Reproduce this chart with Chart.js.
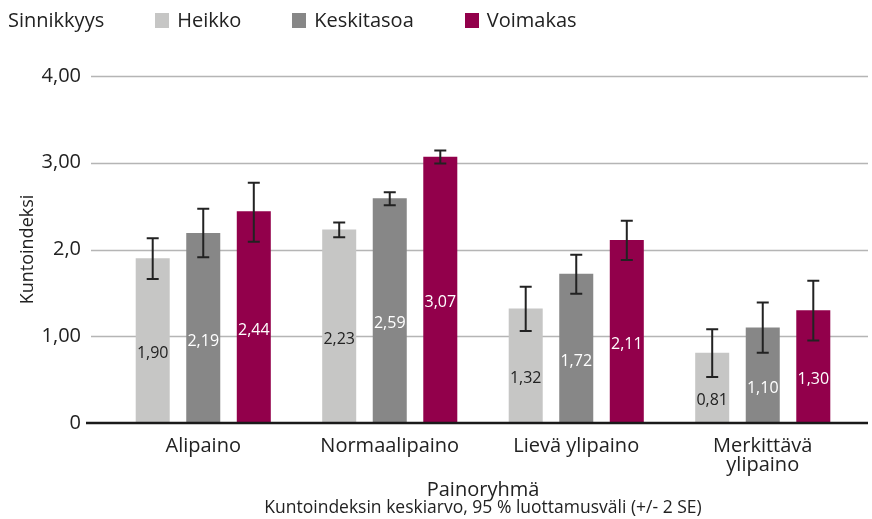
<!DOCTYPE html>
<html>
<head>
<meta charset="utf-8">
<script src="https://cdn.jsdelivr.net/npm/chart.js@4"></script>
<style>
  html, body { margin: 0; padding: 0; background: #fff; }
  body { width: 872px; height: 519px; position: relative; overflow: hidden;
         font-family: 'Open Sans', sans-serif; color: #222; }
  #legend { position: absolute; left: 8px; top: 7px; display: flex; align-items: center;
            font-size: 20px; line-height: 26px; z-index: 2; }
  .legend-item { display: flex; align-items: center; margin-left: 51px; }
  .legend-dot { display: inline-block; width: 14px; height: 15px; margin-right: 8px; }
  #wrap { position: absolute; left: 0; top: 0; width: 872px; height: 519px; }
</style>
</head>
<body>
<div id="legend"></div>
<div id="wrap"><canvas id="barChart"></canvas></div>
<script>
// ── Data ───────────────────────────────────────
const categories = ['Alipaino', 'Normaalipaino', 'Lievä ylipaino', ['Merkittävä', 'ylipaino']];
const seriesNames = ['Heikko', 'Keskitasoa', 'Voimakas'];

const heikko     = [1.90, 2.23, 1.32, 0.81];
const keskitasoa = [2.19, 2.59, 1.72, 1.10];
const voimakas   = [2.44, 3.07, 2.11, 1.30];

// 95 % luottamusväli, ala- ja yläraja
const heikkoLow      = [1.66, 2.14, 1.06, 0.53];
const heikkoHigh     = [2.13, 2.31, 1.57, 1.08];
const keskitasoaLow  = [1.91, 2.51, 1.49, 0.81];
const keskitasoaHigh = [2.47, 2.66, 1.94, 1.39];
const voimakasLow    = [2.09, 2.99, 1.88, 0.95];
const voimakasHigh   = [2.77, 3.14, 2.33, 1.64];

const yTickLabels = ['0', '1,00', '2,0', '3,00', '4,00'];

const COLORS       = ['#c6c6c5', '#878787', '#92004b'];
const LABEL_COLORS = ['#222222', '#ffffff', '#ffffff'];
const FONT = "'Open Sans', sans-serif";

document.getElementById('legend').innerHTML = '<span>Sinnikkyys</span>' + seriesNames
  .map((l, i) => `<span class="legend-item"><span class="legend-dot" style="background:${COLORS[i]}"></span>${l}</span>`)
  .join('');

// ── Plugins: grid, error bars, value labels ────
const gridLines = {
  id: 'gridLines',
  beforeDatasetsDraw(chart) {
    const { ctx, chartArea, scales: { y } } = chart;
    ctx.save();
    ctx.strokeStyle = '#b5b5b5';
    ctx.lineWidth = 1.5;
    [1, 2, 3, 4].forEach(v => {
      const py = Math.round(y.getPixelForValue(v)) + 0.5;
      ctx.beginPath();
      ctx.moveTo(chartArea.left - 19, py);
      ctx.lineTo(chart.width - 4, py);
      ctx.stroke();
    });
    ctx.restore();
  },
  afterDatasetsDraw(chart) {
    const { ctx, chartArea, scales: { y } } = chart;
    const py = y.getPixelForValue(0);
    ctx.save();
    ctx.strokeStyle = '#1a1a1a';
    ctx.lineWidth = 2.5;
    ctx.beginPath();
    ctx.moveTo(chartArea.left - 24, py);
    ctx.lineTo(chart.width - 4, py);
    ctx.stroke();
    ctx.restore();
  },
};

const errorBars = {
  id: 'errorBars',
  afterDatasetsDraw(chart) {
    const { ctx, scales: { y } } = chart;
    ctx.save();
    chart.data.datasets.forEach((ds, di) => {
      const meta = chart.getDatasetMeta(di);
      meta.data.forEach((bar, i) => {
        // value label inside bar
        ctx.fillStyle = LABEL_COLORS[di];
        ctx.font = `16px ${FONT}`;
        ctx.textAlign = 'center';
        ctx.textBaseline = 'middle';
        ctx.fillText(ds.data[i].toFixed(2).replace('.', ','), bar.x, (bar.y + bar.base) / 2 + 13);

        const top = y.getPixelForValue(ds.errHigh[i]);
        const bot = y.getPixelForValue(ds.errLow[i]);
        ctx.strokeStyle = '#222';
        ctx.lineWidth = 2;
        ctx.beginPath();
        ctx.moveTo(bar.x, top); ctx.lineTo(bar.x, bot);
        ctx.moveTo(bar.x - 6, top); ctx.lineTo(bar.x + 6, top);
        ctx.moveTo(bar.x - 6, bot); ctx.lineTo(bar.x + 6, bot);
        ctx.stroke();
      });
    });
    ctx.restore();
  },
};

// ── Bar chart ──────────────────────────────────
const barChart = new Chart(document.getElementById('barChart'), {
  type: 'bar',
  data: {
    labels: categories,
    datasets: [
      { label: seriesNames[0], data: heikko,     errLow: heikkoLow,     errHigh: heikkoHigh,     backgroundColor: COLORS[0] },
      { label: seriesNames[1], data: keskitasoa, errLow: keskitasoaLow, errHigh: keskitasoaHigh, backgroundColor: COLORS[1] },
      { label: seriesNames[2], data: voimakas,   errLow: voimakasLow,   errHigh: voimakasHigh,   backgroundColor: COLORS[2] },
    ],
  },
  plugins: [gridLines, errorBars],
  options: {
    responsive: true,
    maintainAspectRatio: false,
    animation: false,
    categoryPercentage: 0.813,
    barPercentage: 0.673,
    layout: { padding: { top: 76, right: 16, bottom: 0, left: 0 } },
    plugins: {
      legend: { display: false },
      tooltip: { enabled: false },
    },
    scales: {
      x: {
        grid: { display: false },
        border: { display: false },
        ticks: { color: '#222', font: { family: FONT, size: 20, lineHeight: 0.95 }, padding: 6, maxRotation: 0 },
        title: {
          display: true,
          text: 'Painoryhmä',
          color: '#222',
          font: { family: FONT, size: 20, lineHeight: 1.0 },
          padding: { top: 0, bottom: 0 },
        },
        afterFit: s => { s.height = 77; },
      },
      // second bottom axis only carries the note line under the axis title
      note: {
        type: 'category',
        position: 'bottom',
        grid: { display: false },
        border: { display: false },
        ticks: { display: false },
        title: {
          display: true,
          text: 'Kuntoindeksin keskiarvo, 95 % luottamusväli (+/- 2 SE)',
          color: '#222',
          font: { family: FONT, size: 17.5, lineHeight: 1.0 },
          padding: { top: 0, bottom: 2 },
        },
        afterFit: s => { s.height = 19; },
      },
      y: {
        min: 0,
        max: 4,
        grid: { display: false, drawTicks: false },
        border: { display: false },
        ticks: {
          stepSize: 1,
          padding: 29,
          color: '#222',
          font: { family: FONT, size: 20 },
          callback: (v, i) => yTickLabels[i],
        },
        title: {
          display: true,
          text: 'Kuntoindeksi',
          color: '#222',
          font: { family: FONT, size: 18 },
          padding: { top: 17, bottom: 0 },
        },
        afterFit: s => { s.width = 110; },
      },
    },
  },
});
</script>
</body>
</html>
